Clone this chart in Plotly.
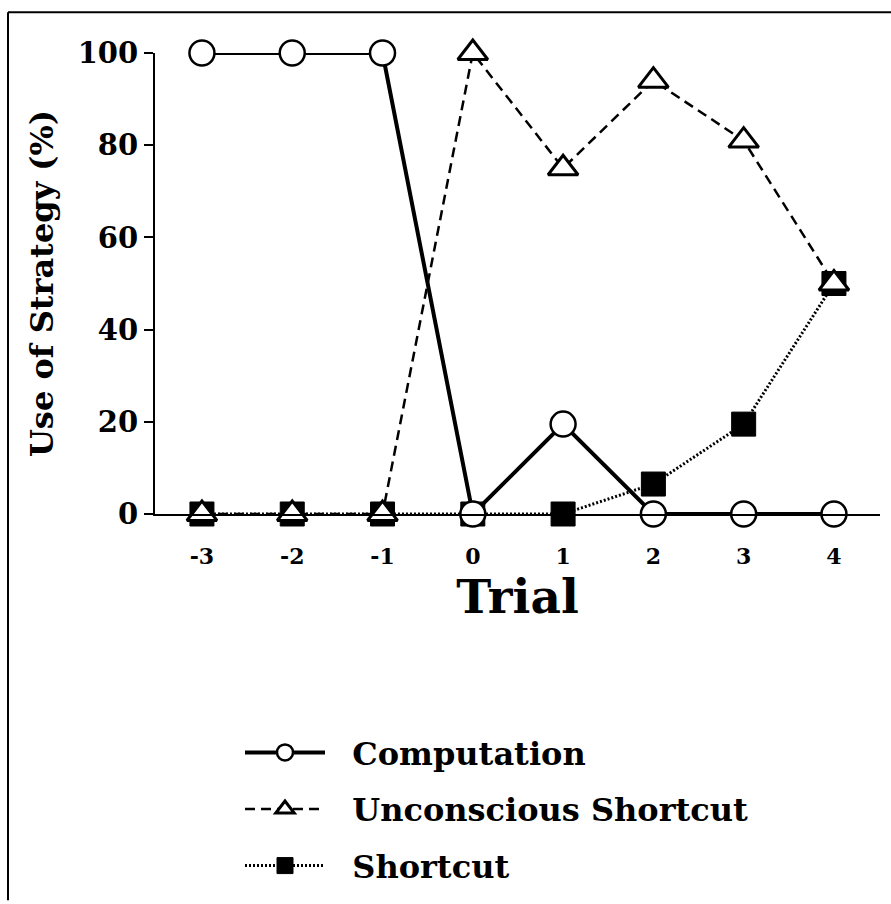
import plotly.graph_objects as go

trials = [-3, -2, -1, 0, 1, 2, 3, 4]
tick_labels = ["-3", "-2", "-1", "0", "1", "2", "3", "4"]
computation = [100, 100, 100, 0, 19.5, 0, 0, 0]
unconscious = [0, 0, 0, 100, 75, 94, 81, 50]
shortcut = [0, 0, 0, 0, 0, 6.5, 19.5, 50]
y_ticks = [0, 20, 40, 60, 80, 100]
series_names = ["Computation", "Unconscious Shortcut", "Shortcut"]

FONT = "DejaVu Serif"
W, H = 891, 904
ML, MR, MT, MB = 155, 11, 53, 388
PW = W - ML - MR
PH = H - MT - MB

def px(x):
    return (x - ML) / PW

def py(y):
    return (H - MB - y) / PH

NB = "\u00a0\u00a0"

fig = go.Figure()

fig.add_trace(go.Scatter(
    x=trials, y=shortcut, name=NB + series_names[2], mode="lines+markers",
    line=dict(color="black", width=3, dash="2px,2px"),
    marker=dict(symbol="square", size=24, color="black",
                line=dict(color="black", width=1)),
    cliponaxis=False, legendrank=3, legendgroup="c",
))
fig.add_trace(go.Scatter(
    x=trials, y=unconscious, name=NB + series_names[1], mode="lines+markers",
    line=dict(color="black", width=2.5, dash="10px,6px"),
    marker=dict(symbol="triangle-up", size=26, color="white",
                line=dict(color="black", width=3)),
    cliponaxis=False, legendrank=2, legendgroup="b",
))
fig.add_trace(go.Scatter(
    x=trials, y=computation, name=NB + series_names[0], mode="lines+markers",
    line=dict(color="black", width=4),
    marker=dict(symbol="circle", size=25, color="white",
                line=dict(color="black", width=2.5)),
    cliponaxis=False, legendrank=1, legendgroup="a",
))

fig.update_layout(
    width=W, height=H,
    margin=dict(l=ML, r=MR, t=MT, b=MB),
    paper_bgcolor="white", plot_bgcolor="white",
    font=dict(family=FONT, color="black", weight="bold"),
    showlegend=True,
    legend=dict(
        x=px(240), y=py(728), xanchor="left", yanchor="top",
        font=dict(family=FONT, size=32, weight="bold"),
        itemwidth=80, tracegroupgap=12, bgcolor="rgba(0,0,0,0)",
        itemsizing="trace",
    ),
    xaxis=dict(
        range=[-3.52, 4.51], tickmode="array", tickvals=trials, ticktext=tick_labels,
        showgrid=False, zeroline=False, showline=True, linecolor="black", linewidth=2,
        ticks="", ticklabelstandoff=22,
        tickfont=dict(family=FONT, size=22, weight="bold"),
        title=dict(text="Trial", font=dict(family=FONT, size=47, weight="bold"), standoff=12),
    ),
    yaxis=dict(
        range=[0, 100], tickmode="array", tickvals=y_ticks,
        showgrid=False, zeroline=False, showline=True, linecolor="black", linewidth=2,
        ticks="outside", ticklen=9, tickwidth=2, tickcolor="black",
        tickfont=dict(family=FONT, size=29, weight="bold"),
        title=dict(text="Use of Strategy (%)", font=dict(family=FONT, size=32, weight="bold"), standoff=14),
    ),
    shapes=[
        dict(type="line", xref="paper", yref="paper", x0=px(8), x1=px(891), y0=py(12), y1=py(12),
             line=dict(color="black", width=2)),
        dict(type="line", xref="paper", yref="paper", x0=px(8), x1=px(8), y0=py(12), y1=py(904),
             line=dict(color="black", width=2)),
    ],
)

fig.write_html("out.html", config={"displayModeBar": False},
               post_script="document.body.style.margin='0';document.body.style.overflow='hidden';")
